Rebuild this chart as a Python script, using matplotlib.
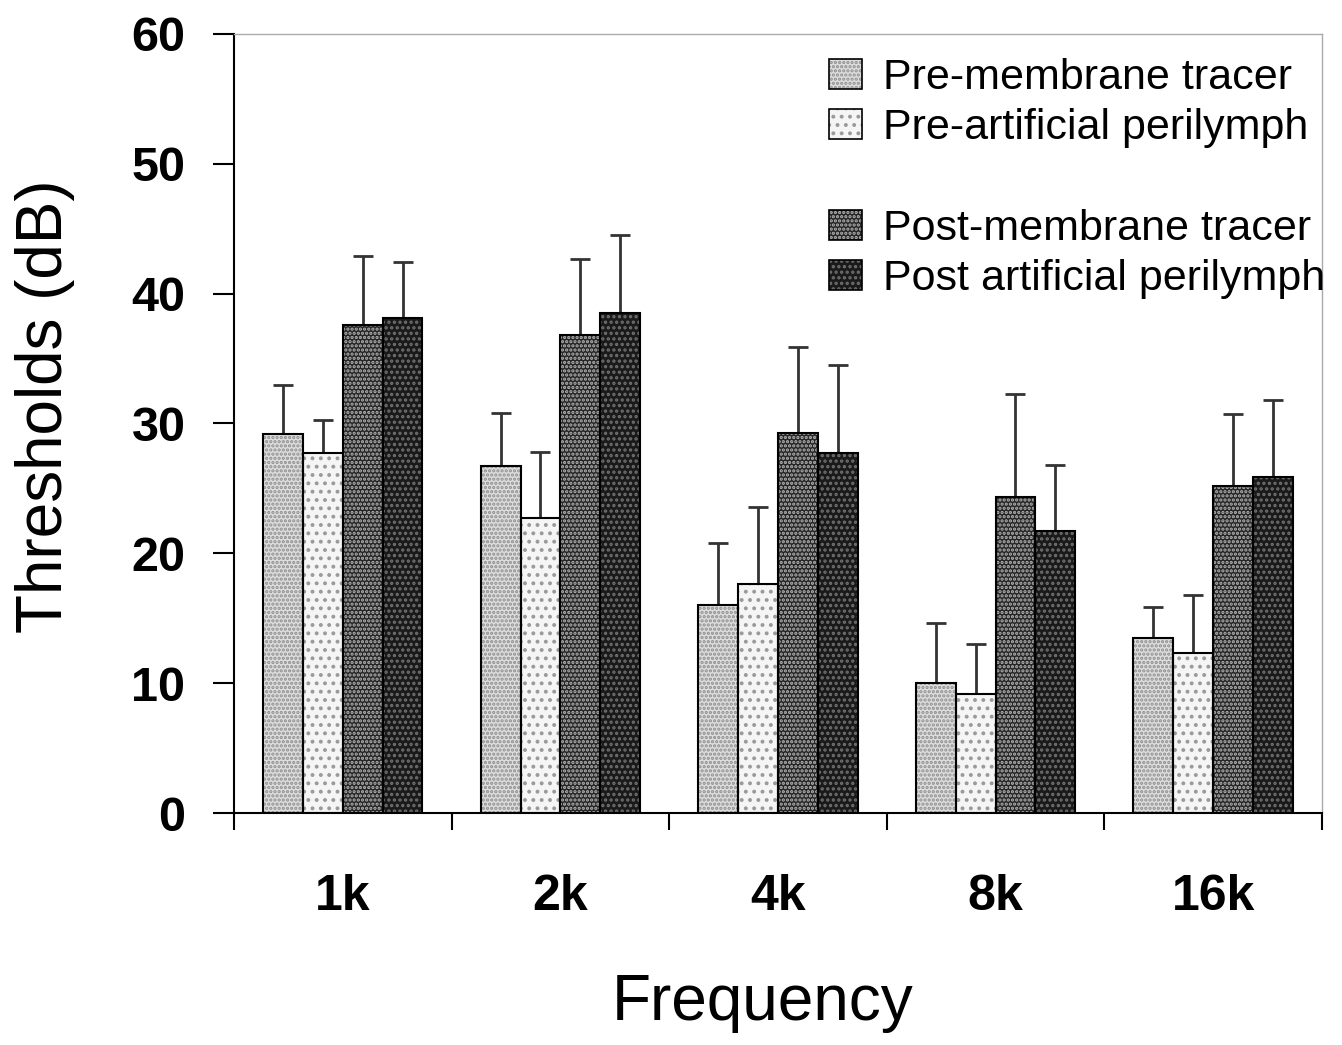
import numpy as np
import matplotlib.pyplot as plt
from matplotlib.patches import Patch
from matplotlib.legend_handler import HandlerTuple

plt.rcParams['font.family'] = ['Liberation Sans', 'DejaVu Sans']
plt.rcParams['hatch.linewidth'] = 1.6

# ===== data
freqs = ['1k', '2k', '4k', '8k', '16k']
series = ['Pre-membrane tracer', 'Pre-artificial perilymph',
          'Post-membrane tracer', 'Post artificial perilymph']

pre_membrane = [29.2, 26.7, 16.0, 10.0, 13.5]
pre_artificial = [27.7, 22.7, 17.6, 9.2, 12.3]
post_membrane = [37.6, 36.8, 29.3, 24.3, 25.2]
post_artificial = [38.1, 38.5, 27.7, 21.7, 25.9]

# upper ends of the error bars
pre_membrane_top = [33.0, 30.8, 20.8, 14.6, 15.9]
pre_artificial_top = [30.3, 27.8, 23.6, 13.0, 16.8]
post_membrane_top = [42.9, 42.7, 35.9, 32.3, 30.7]
post_artificial_top = [42.4, 44.5, 34.5, 26.8, 31.8]

values = [pre_membrane, pre_artificial, post_membrane, post_artificial]
tops = [pre_membrane_top, pre_artificial_top, post_membrane_top, post_artificial_top]

# face colour, hatch, hatch colour
styles = [('#dddddd', '....', '#8f8f8f'),
          ('#f5f5f5', '..', '#9a9a9a'),
          ('#262626', '....', '#b4b4b4'),
          ('#1a1a1a', '...', '#707070')]

# ===== figure
fig = plt.figure(figsize=(13.42, 10.45), dpi=100)
ax = fig.add_axes([0.1744, 0.222, 0.8106, 0.7455])

x = np.arange(len(freqs))
w = 0.183
handles = []
for i, (vals, top, (fc, hatch, hc)) in enumerate(zip(values, tops, styles)):
    pos = x + (i - 1.5) * w
    ax.bar(pos, vals, w, color=fc, hatch=hatch, edgecolor=hc, linewidth=0, zorder=2)
    ax.bar(pos, vals, w, fill=False, edgecolor='black', linewidth=1.5, zorder=3)
    err = np.array(top) - np.array(vals)
    ax.errorbar(pos, vals, yerr=[np.zeros_like(err), err], fmt='none',
                ecolor='#333333', elinewidth=2, capsize=7, capthick=2, zorder=1)
    handles.append((Patch(facecolor=fc, hatch=hatch, edgecolor=hc, linewidth=0),
                    Patch(fill=False, edgecolor='black', linewidth=1.2)))

# blank row between pre and post
blank = Patch(facecolor='none', edgecolor='none')
leg_handles = handles[:2] + [blank] + handles[2:]
leg_labels = series[:2] + [''] + series[2:]
ax.legend(leg_handles, leg_labels, handler_map={tuple: HandlerTuple(ndivide=1)},
          loc='upper right', bbox_to_anchor=(1.025, 1.0), frameon=False,
          fontsize=31, handlelength=0.75, handleheight=0.7, handletextpad=0.5,
          labelspacing=0.24, borderaxespad=0.15)

ax.set_xlim(-0.5, 4.5)
ax.set_ylim(0, 60)
ax.set_yticks(np.arange(0, 61, 10))
ax.set_xticks(np.arange(-0.5, 5, 1))
ax.set_xticklabels([])
ax.set_xticks(x, minor=True)
ax.set_xticklabels(freqs, minor=True, fontsize=36, fontweight='bold')
ax.tick_params(axis='x', which='major', direction='out', length=12, width=1.5)
ax.tick_params(axis='x', which='minor', length=0, pad=44)
ax.tick_params(axis='y', direction='out', length=15, width=1.5, pad=20)
for lab in ax.get_yticklabels():
    lab.set_fontsize(35)
    lab.set_fontweight('bold')

for s in ['left', 'bottom']:
    ax.spines[s].set_linewidth(1.5)
for s in ['top', 'right']:
    ax.spines[s].set_color('#aaaaaa')
    ax.spines[s].set_linewidth(1)

ax.set_xlabel('Frequency', fontsize=46)
ax.set_ylabel('Thresholds (dB)', fontsize=46)
ax.xaxis.set_label_coords(0.486, -0.205)
ax.yaxis.set_label_coords(-0.174, 0.5225)
ax.yaxis.label.set_va('center')

fig.savefig('out.png', dpi=100)
